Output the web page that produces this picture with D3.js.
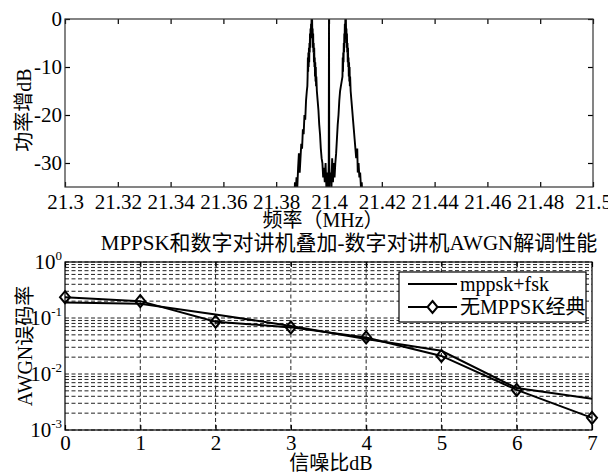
<!DOCTYPE html>
<html><head><meta charset="utf-8">
<script src="https://cdn.jsdelivr.net/npm/d3@7"></script>
<style>
html,body{margin:0;padding:0;background:#fff;}
text{font-family:"Liberation Serif","Noto Sans CJK SC",serif;fill:#000;}
</style></head>
<body>
<svg id="c" width="608" height="473"></svg>
<script>
// ---------- data ----------
const topXTicks = [21.3,21.32,21.34,21.36,21.38,21.4,21.42,21.44,21.46,21.48,21.5];
const topXLabels = ["21.3","21.32","21.34","21.36","21.38","21.4","21.42","21.44","21.46","21.48","21.5"];
const topYTicks = [0,-10,-20,-30];
const topYLabels = ["0","-10","-20","-30"];
// spectrum: [frequency MHz, power dB]
const spectrum = [[21.3860,-42],[21.3868,-40],[21.3871,-34],[21.3874,-36],[21.3877,-33],[21.3880,-35],[21.3883,-31],[21.3886,-28],[21.3889,-32],[21.3892,-29],[21.3895,-26],[21.3898,-27],[21.3901,-23],[21.3904,-24],[21.3907,-20],[21.3910,-21],[21.3913,-17],[21.3916,-15],[21.3918,-14],[21.3919,-12],[21.3920,-8],[21.3921,-11],[21.3922,-7],[21.3923,-10],[21.3924,-6],[21.3925,-9],[21.3926,-5],[21.3927,-7],[21.3928,-3],[21.3929,-6],[21.3930,-2],[21.3931,-4],[21.3932,-1],[21.3933,-3],[21.3934,0],[21.3935,-2],[21.3936,0],[21.3937,-4],[21.3938,-2],[21.3939,-6],[21.3940,-3],[21.3941,-7],[21.3942,-5],[21.3943,-9],[21.3944,-6],[21.3945,-10],[21.3946,-8],[21.3947,-12],[21.3948,-9],[21.3949,-13],[21.3950,-10],[21.3951,-14],[21.3952,-12],[21.3954,-15],[21.3957,-17],[21.3960,-19],[21.3963,-22],[21.3966,-24],[21.3969,-27],[21.3972,-29],[21.3975,-30],[21.3978,-33],[21.3981,-31],[21.3984,-34],[21.3987,-30],[21.3990,-35],[21.3993,-32],[21.3996,-36],[21.3998,-33],[21.3999,-30],[21.4000,0],[21.4001,-30],[21.4003,-34],[21.4006,-32],[21.4009,-36],[21.4012,-29],[21.4015,-34],[21.4018,-30],[21.4021,-33],[21.4024,-30],[21.4027,-28],[21.4030,-25],[21.4033,-22],[21.4036,-20],[21.4039,-17],[21.4042,-15],[21.4045,-14],[21.4048,-13],[21.4051,-12],[21.4052,-8],[21.4053,-11],[21.4054,-7],[21.4055,-9],[21.4056,-5],[21.4057,-7],[21.4058,-3],[21.4059,-5],[21.4060,-1],[21.4061,-3],[21.4062,0],[21.4063,-2],[21.4064,0],[21.4065,-4],[21.4066,-2],[21.4067,-6],[21.4068,-3],[21.4069,-7],[21.4070,-5],[21.4071,-9],[21.4072,-6],[21.4073,-10],[21.4074,-8],[21.4075,-12],[21.4076,-9],[21.4077,-13],[21.4078,-10],[21.4079,-14],[21.4080,-12],[21.4082,-15],[21.4085,-17],[21.4088,-19],[21.4091,-21],[21.4094,-23],[21.4097,-25],[21.4100,-27],[21.4103,-29],[21.4105,-28],[21.4107,-27],[21.4109,-32],[21.4112,-30],[21.4115,-33],[21.4118,-32],[21.4121,-35],[21.4124,-34],[21.4127,-38],[21.4135,-42]];

const snr = [0,1,2,3,4,5,6,7];
const berMix = [0.19,0.18,0.116,0.072,0.042,0.026,0.0056,0.0036];
const berClassic = [0.235,0.20,0.086,0.068,0.045,0.021,0.0052,0.00165];
const botYTicks = [1,0.1,0.01,0.001];
const botYExp = ["0","-1","-2","-3"];
const seriesNames = ["mppsk+fsk","无MPPSK经典"];
const topTitleX = "频率（MHz）";
const topTitleY = "功率增dB";
const botTitle = "MPPSK和数字对讲机叠加-数字对讲机AWGN解调性能";
const botTitleX = "信噪比dB";
const botTitleY = "AWGN误码率";

// ---------- drawing ----------
const svg = d3.select("#c");
const FS = 20, TFS = 21;

// Top plot
const tx = d3.scaleLinear([21.3,21.5],[65,593]);
const ty = d3.scaleLinear([-35,0],[187,19]);
const gTop = svg.append("g");
gTop.append("defs").append("clipPath").attr("id","clipTop")
  .append("rect").attr("x",65).attr("y",19).attr("width",528).attr("height",168);

const line1 = d3.line().x(d=>tx(d[0])).y(d=>ty(d[1]));
gTop.append("path").datum(spectrum).attr("d",line1)
  .attr("fill","none").attr("stroke","#000").attr("stroke-width",1.9)
  .attr("stroke-linejoin","miter").attr("clip-path","url(#clipTop)");

function styleAxis(g){
  g.select(".domain").remove();
  g.selectAll(".tick line").attr("stroke","#000").attr("stroke-width",1.2);
  g.selectAll("text").style("font-size",TFS+"px").style("font-family","'Liberation Serif',serif");
}
gTop.append("g").attr("transform","translate(0,187)")
  .call(d3.axisBottom(tx).tickValues(topXTicks).tickFormat((d,i)=>topXLabels[i]).tickSizeInner(-5).tickSizeOuter(0).tickPadding(7))
  .call(styleAxis);
gTop.append("g").attr("transform","translate(0,19)")
  .call(d3.axisTop(tx).tickValues(topXTicks).tickFormat("").tickSizeInner(-5).tickSizeOuter(0))
  .call(styleAxis);
gTop.append("g").attr("transform","translate(65,0)")
  .call(d3.axisLeft(ty).tickValues(topYTicks).tickFormat((d,i)=>topYLabels[i]).tickSizeInner(-5).tickSizeOuter(0).tickPadding(3))
  .call(styleAxis);
gTop.append("g").attr("transform","translate(593,0)")
  .call(d3.axisRight(ty).tickValues(topYTicks).tickFormat("").tickSizeInner(-5).tickSizeOuter(0))
  .call(styleAxis);
gTop.append("rect").attr("x",65).attr("y",19).attr("width",528).attr("height",168)
  .attr("fill","none").attr("stroke","#333").attr("stroke-width",1.2);
gTop.append("text").attr("x",323).attr("y",227).attr("text-anchor","middle")
  .style("font-size",FS+"px").text(topTitleX);
gTop.append("text").attr("transform","translate(31,110) rotate(-90)").attr("text-anchor","middle")
  .style("font-size",FS+"px").text(topTitleY);

// Bottom plot
const bx = d3.scaleLinear([0,7],[65,592]);
const by = d3.scaleLog([1e-3,1],[430,262]);
const gB = svg.append("g");
// grid
gB.selectAll("line.hg").data(by.ticks()).join("line").attr("class","hg")
  .attr("x1",65).attr("x2",592).attr("y1",d=>by(d)).attr("y2",d=>by(d))
  .attr("stroke","#222").attr("stroke-width",1).attr("stroke-dasharray","4,2.5");
gB.selectAll("line.vg").data(snr.slice(1,-1)).join("line").attr("class","vg")
  .attr("x1",d=>bx(d)).attr("x2",d=>bx(d)).attr("y1",262).attr("y2",430)
  .attr("stroke","#222").attr("stroke-width",1).attr("stroke-dasharray","4,2.5");

gB.append("g").attr("transform","translate(0,430)")
  .call(d3.axisBottom(bx).tickValues(snr).tickFormat(d3.format("d")).tickSizeInner(-5).tickSizeOuter(0).tickPadding(5))
  .call(styleAxis);
gB.append("g").attr("transform","translate(0,262)")
  .call(d3.axisTop(bx).tickValues(snr).tickFormat("").tickSizeInner(-5).tickSizeOuter(0))
  .call(styleAxis);

// y tick labels with superscripts
const yl = gB.selectAll("text.yl").data(botYTicks).join("text").attr("class","yl")
  .attr("x",62).attr("y",d=>by(d)+7).attr("text-anchor","end").style("font-size",TFS+"px");
yl.append("tspan").text("10");
yl.append("tspan").attr("dy",-9).style("font-size","13px").text((d,i)=>botYExp[i]);

gB.append("rect").attr("x",65).attr("y",262).attr("width",527).attr("height",168)
  .attr("fill","none").attr("stroke","#000").attr("stroke-width",1.2);

const lineB = d3.line().x((d,i)=>bx(snr[i])).y(d=>by(d));
gB.append("path").datum(berMix).attr("d",lineB).attr("fill","none")
  .attr("stroke","#000").attr("stroke-width",2);
gB.append("path").datum(berClassic).attr("d",lineB).attr("fill","none")
  .attr("stroke","#000").attr("stroke-width",2);
const diamond = (cx,cy)=>`M${cx},${cy-6}L${cx+5},${cy}L${cx},${cy+6}L${cx-5},${cy}Z`;
gB.selectAll("path.mk").data(berClassic).join("path").attr("class","mk")
  .attr("d",(d,i)=>diamond(bx(snr[i]),by(d)))
  .attr("fill","none").attr("stroke","#000").attr("stroke-width",2);

// legend
const lg = gB.append("g");
lg.append("rect").attr("x",399).attr("y",272).attr("width",187).attr("height",50)
  .attr("fill","#fff").attr("stroke","#000").attr("stroke-width",1.2);
lg.append("line").attr("x1",408).attr("x2",457).attr("y1",284).attr("y2",284)
  .attr("stroke","#000").attr("stroke-width",2);
lg.append("line").attr("x1",408).attr("x2",457).attr("y1",307).attr("y2",307)
  .attr("stroke","#000").attr("stroke-width",2);
lg.append("path").attr("d",diamond(432.5,307)).attr("fill","#fff").attr("stroke","#000").attr("stroke-width",2);
lg.append("text").attr("x",460).attr("y",291).style("font-size",FS+"px").text(seriesNames[0]);
lg.append("text").attr("x",460).attr("y",314).style("font-size",FS+"px").text(seriesNames[1]);

// titles
gB.append("text").attr("x",349).attr("y",250).attr("text-anchor","middle")
  .style("font-size","21px").text(botTitle);
gB.append("text").attr("x",331).attr("y",470).attr("text-anchor","middle")
  .style("font-size",FS+"px").text(botTitleX);
gB.append("text").attr("transform","translate(32,346) rotate(-90)").attr("text-anchor","middle")
  .style("font-size",FS+"px").text(botTitleY);
</script>
</body></html>
